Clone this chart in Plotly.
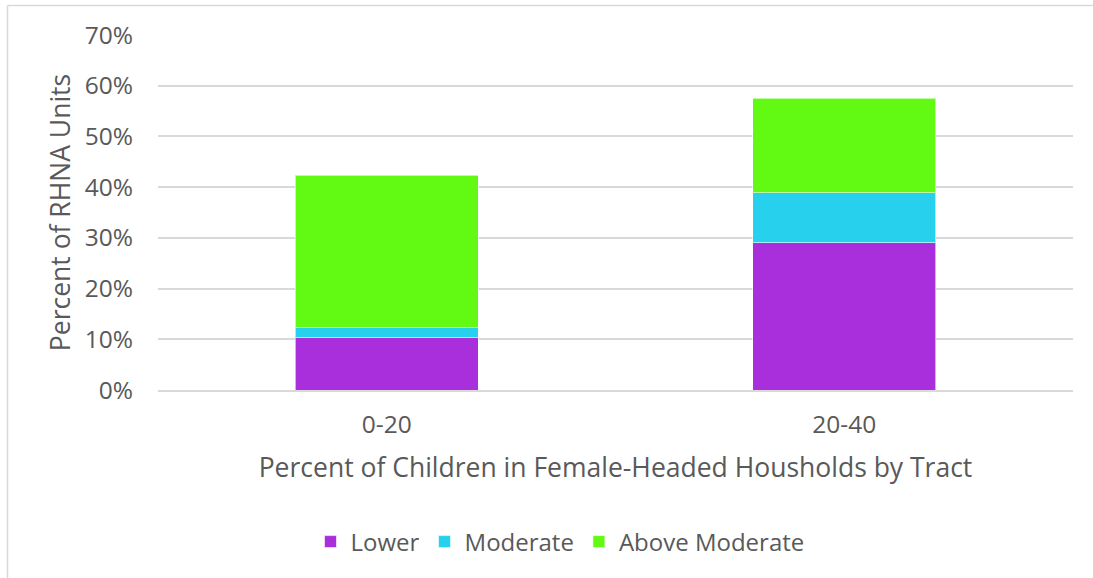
import plotly.graph_objects as go

categories = ["0-20", "20-40"]
lower = [10.3, 29.0]
moderate = [2.0, 9.9]
above_moderate = [30.0, 18.6]
series_names = ["Lower", "Moderate", "Above Moderate"]
colors = ["#A92EDC", "#27D0EC", "#62F913"]
y_ticks = [0, 10, 20, 30, 40, 50, 60, 70]
y_tick_labels = [f"{v}%" for v in y_ticks]

W, H = 1093, 578
L, R, T, B = 158, 20, 35, 188
pw, ph = W - L - R, H - T - B

def px_to_paper_x(px):
    return (px - L) / pw

def px_to_paper_y(py):
    return (H - B - py) / ph

fig = go.Figure()
for name, vals, col in zip(series_names, [lower, moderate, above_moderate], colors):
    fig.add_trace(go.Bar(
        x=categories, y=vals, name=name,
        marker=dict(color=col, line=dict(color="rgba(255,255,255,0.6)", width=1)),
    ))

font_color = "#595959"
fig.update_layout(
    width=W, height=H,
    barmode="stack", bargap=0.6,
    margin=dict(l=L, r=R, t=T, b=B),
    paper_bgcolor="white", plot_bgcolor="white",
    font=dict(family="Open Sans", color=font_color, size=24),
    showlegend=True,
    legend=dict(orientation="h", x=px_to_paper_x(560), xanchor="center",
                y=px_to_paper_y(542), yanchor="middle",
                font=dict(size=24, color=font_color), traceorder="normal",
                itemwidth=30),
    xaxis=dict(
        title=dict(text="Percent of Children in Female-Headed Housholds by Tract",
                   font=dict(size=26.5, color=font_color), standoff=19),
        showline=True, linecolor="#d9d9d9", linewidth=1.5,
        ticks="", tickfont=dict(size=24.5, color=font_color), ticklabelstandoff=12,
    ),
    yaxis=dict(
        title=dict(text="Percent of RHNA Units", font=dict(size=26.5, color=font_color), standoff=6),
        range=[0, 70], tickvals=y_ticks, ticktext=y_tick_labels,
        gridcolor="#d9d9d9", gridwidth=1.5, zeroline=False,
        tickfont=dict(size=24.5, color=font_color), ticklabelstandoff=24,
    ),
    shapes=[
        dict(type="line", xref="paper", yref="paper",
             x0=px_to_paper_x(7.5), x1=px_to_paper_x(1100),
             y0=px_to_paper_y(5.5), y1=px_to_paper_y(5.5),
             line=dict(color="#d9d9d9", width=1.5)),
        dict(type="line", xref="paper", yref="paper",
             x0=px_to_paper_x(7.5), x1=px_to_paper_x(7.5),
             y0=px_to_paper_y(5.5), y1=px_to_paper_y(590),
             line=dict(color="#d9d9d9", width=1.5)),
    ],
)

fig.write_html("out.html", config={"displayModeBar": False},
               post_script="document.body.style.margin='0';document.body.style.overflow='hidden';")
